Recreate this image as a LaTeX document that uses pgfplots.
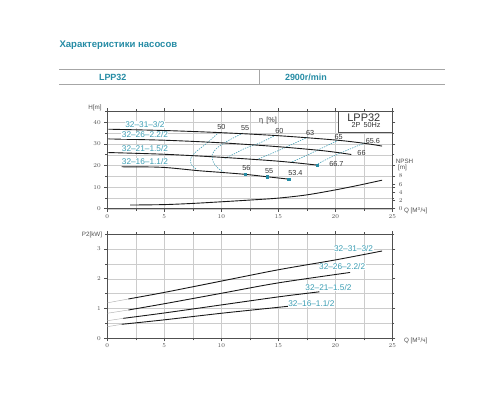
\documentclass[border=0pt]{standalone}
\usepackage{pgfplots}
\pgfplotsset{compat=1.18}
\usepackage{fontspec}
\setmainfont{Liberation Sans}
\definecolor{tealT}{RGB}{38,140,165}
\definecolor{tealL}{RGB}{60,158,180}
\definecolor{tealD}{RGB}{70,160,182}
\definecolor{axg}{RGB}{80,80,80}
\definecolor{curve}{RGB}{25,25,25}
\begin{document}
\begin{tikzpicture}[x=1bp,y=1bp]
\path (0,0) rectangle (500,400);
% title and table
\node[anchor=west, text=tealT, font=\fontsize{9.6}{11}\selectfont\bfseries] at (56,355) {Характеристики насосов};
\draw[gray!70, line width=0.9] (59,331) -- (445,331);
\draw[gray!70, line width=0.9] (59,315.7) -- (445,315.7);
\draw[gray!70, line width=0.7] (259.3,315.7) -- (259.3,331);
\node[anchor=west, text=tealT, font=\fontsize{9}{10}\selectfont\bfseries] at (95.5,323) {LPP32};
\node[anchor=west, text=tealT, font=\fontsize{9}{10}\selectfont\bfseries] at (281.5,323) {2900r/min};

\pgfplotsset{
  pumpaxis/.style={
    scale only axis, width=285bp, xmin=0, xmax=25,
    xtick={0,5,...,25}, minor xtick={2.5,7.5,...,22.5},
    grid=both,
    major grid style={gray!40, line width=0.4},
    minor grid style={gray!40, line width=0.4},
    tick label style={font=\fontsize{6.3}{7}\selectfont, text=axg},
    tick align=outside, major tick length=3bp, minor tick length=2bp,
    tick style={axg, line width=0.5},
    axis line style={axg, line width=0.6},
    xticklabel style={yshift=1bp},
    clip=false,
  }
}

% ---------- top chart ----------
\begin{axis}[pumpaxis, at={(107.3bp,191.3bp)}, anchor=south west, height=97.2bp,
  ymin=0, ymax=45, ytick={0,10,...,40}, minor ytick={5,15,...,45}]
% efficiency iso-lines (dashed)
\addplot[tealD, dash pattern=on 1.4bp off 1.1bp, line width=0.6, smooth] coordinates {(9.8,35.4)(8.7,30.2)(7.7,26)(7.3,23)(7.4,20.3)(7.8,18.3)};
\addplot[tealD, dash pattern=on 1.4bp off 1.1bp, line width=0.6, smooth] coordinates {(11.9,35)(10.6,31.5)(9.6,28)(9.2,25)(9.3,21.5)(9.7,18.8)(10.2,17)};
\addplot[tealD, dash pattern=on 1.4bp off 1.1bp, line width=0.6, smooth] coordinates {(14.8,34.1)(13.4,30.5)(12.1,28)(11.1,25.3)(10.3,23.3)};
\addplot[tealD, dash pattern=on 1.4bp off 1.1bp, line width=0.6, smooth] coordinates {(17.6,33.2)(15.8,28.8)(14.3,25.3)(13,22.5)};
\addplot[tealD, dash pattern=on 1.4bp off 1.1bp, line width=0.6, smooth] coordinates {(20.3,31.8)(18.6,27.5)(17.2,24)(16,21.2)};
\addplot[tealD, dash pattern=on 1.4bp off 1.1bp, line width=0.6, smooth] coordinates {(22.6,30.5)(21,27)(19.6,23.8)(18.4,20.6)};
% H-Q curves
\addplot[curve, line width=0.9, smooth] coordinates {(0.1,36.8)(5,36.2)(10,35.2)(15,33.8)(20,31.8)(22.5,30.3)(24.1,29)};
\addplot[curve, line width=0.9, smooth] coordinates {(0.1,32.3)(5,31.7)(10,30.5)(15,28.7)(19,26.8)(21.4,25.1)};
\addplot[curve, line width=0.9, smooth] coordinates {(0.1,26)(5,25.2)(10,23.8)(15,22)(18.4,20.2)};
\addplot[curve, line width=0.9, smooth] coordinates {(1.25,19.4)(4,19.3)(5.5,18.9)(8,17.6)(10,16.8)(12.1,15.9)(14,14.8)(15.9,13.7)};
% NPSH curve (in H units)
\addplot[curve, line width=0.9, smooth] coordinates {(2,1.7)(5,1.9)(7.5,2.45)(10,3.2)(12.5,4)(15,4.9)(17.5,6.4)(20,8.7)(22,10.8)(24.1,13.2)};
\addplot[only marks, mark=square*, mark size=1.2, tealT] coordinates {(12.1,15.9)(14,14.8)(15.9,13.7)(18.4,20.2)};
% labels
\begin{scope}[every node/.style={font=\fontsize{8.3}{9}\selectfont, text=tealL, fill=white, inner sep=0.5bp}]
\node at (axis cs:3.3,38.8) {32–31–3/2};
\node at (axis cs:3.3,34.1) {32–26–2.2/2};
\node at (axis cs:3.3,28) {32–21–1.5/2};
\node at (axis cs:3.3,21.8) {32–16–1.1/2};
\end{scope}
\begin{scope}[every node/.style={font=\fontsize{7.3}{8}\selectfont, text=black!80, inner sep=0.5bp}]
\node at (axis cs:10,38) {50};
\node at (axis cs:12.1,37.2) {55};
\node at (axis cs:15.1,36.1) {60};
\node at (axis cs:17.8,34.9) {63};
\node at (axis cs:20.3,33.3) {65};
\node at (axis cs:23.3,31.3) {65.6};
\node at (axis cs:22.3,25.6) {66};
\node at (axis cs:20.1,20.5) {66.7};
\node at (axis cs:12.2,19) {56};
\node at (axis cs:14.2,17.5) {55};
\node at (axis cs:16.5,16.4) {53.4};
\node at (axis cs:14.1,41) {η\, [\%]};
\end{scope}
\draw[axg, line width=0.5, fill=white] (axis cs:20.3,35.2) rectangle (axis cs:25,45);
\node[font=\fontsize{11}{12}\selectfont, text=black!80, inner sep=0] at (axis cs:22.5,42.3) {LPP32};
\node[font=\fontsize{7.3}{8}\selectfont, text=black!80, inner sep=0] at (axis cs:22.7,38.6) {2P\, 50Hz};
\end{axis}
% NPSH right axis
\begin{axis}[scale only axis, at={(107.3bp,191.3bp)}, anchor=south west, width=285bp, height=97.2bp,
  xmin=0, xmax=25, ymin=0, ymax=23.8, axis x line=none, axis y line*=right,
  ytick={0,2,...,8}, tick align=outside, major tick length=3bp,
  tick style={axg, line width=0.5}, axis line style={axg, line width=0.6},
  tick label style={font=\fontsize{6.3}{7}\selectfont, text=axg}, clip=false]
\node[font=\fontsize{6.3}{7}\selectfont, text=axg, anchor=west] at (axis cs:25,11.6) {NPSH};
\node[font=\fontsize{6.3}{7}\selectfont, text=axg, anchor=west] at (axis cs:25.2,10.1) {[m]};
\end{axis}
\node[font=\fontsize{6.3}{7}\selectfont, text=axg, anchor=west] at (400.5,189.3) {Q [M\textsuperscript{3}/ч]};
\node[font=\fontsize{6.3}{7}\selectfont, text=axg] at (95,292) {H[m]};

% ---------- bottom chart ----------
\begin{axis}[pumpaxis, at={(107.3bp,61.7bp)}, anchor=south west, height=104.3bp,
  ymin=0, ymax=3.5, ytick={0,1,2,3}, minor ytick={0.5,1.5,2.5,3.5}]
\addplot[gray!60, line width=0.45] coordinates {(0,1.19)(1.85,1.32)};
\addplot[gray!60, line width=0.45] coordinates {(0,0.84)(1.85,0.95)};
\addplot[gray!60, line width=0.45] coordinates {(0,0.59)(1.4,0.67)};
\addplot[gray!60, line width=0.45] coordinates {(0,0.39)(1.26,0.47)};
\addplot[curve, line width=0.9, smooth] coordinates {(1.85,1.32)(5,1.54)(10,1.92)(15,2.3)(20,2.63)(24.1,2.93)};
\addplot[curve, line width=0.9, smooth] coordinates {(1.85,0.95)(5,1.16)(10,1.51)(15,1.86)(21.3,2.21)};
\addplot[curve, line width=0.9, smooth] coordinates {(1.4,0.67)(5,0.85)(10,1.12)(15,1.39)(18.6,1.56)};
\addplot[curve, line width=0.9, smooth] coordinates {(1.26,0.47)(5,0.62)(10,0.84)(15,1.04)(16,1.08)};
\begin{scope}[every node/.style={font=\fontsize{8.3}{9}\selectfont, text=tealL, fill=white, inner sep=0.5bp}]
\node at (axis cs:21.6,3.02) {32–31–3/2};
\node at (axis cs:20.6,2.4) {32–26–2.2/2};
\node at (axis cs:19.4,1.7) {32–21–1.5/2};
\node at (axis cs:17.9,1.17) {32–16–1.1/2};
\end{scope}
\end{axis}
\node[font=\fontsize{6.3}{7}\selectfont, text=axg, anchor=west] at (400.5,59.2) {Q [M\textsuperscript{3}/ч]};
\node[font=\fontsize{6.3}{7}\selectfont, text=axg] at (92,165) {P2[kW]};
\end{tikzpicture}
\end{document}
